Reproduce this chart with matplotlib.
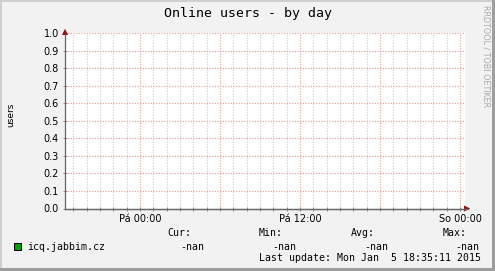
import numpy as np
import matplotlib
matplotlib.use("Agg")
import matplotlib.pyplot as plt
from matplotlib.patches import Rectangle
from matplotlib.lines import Line2D

# ---- data ----
title = "Online users - by day"
y_label = "users"
series_name = "icq.jabbim.cz"
series_color = "#00A000"
# hours relative to "Pá 00:00"; the series has no data (all NaN)
time_hours = [-5.0, 0.0, 6.0, 12.0, 18.0, 24.0]
users = [np.nan, np.nan, np.nan, np.nan, np.nan, np.nan]
x_tick_pos = [0, 12, 24]
x_tick_labels = ["Pá 00:00", "Pá 12:00", "So 00:00"]
y_ticks = [0.0, 0.1, 0.2, 0.3, 0.4, 0.5, 0.6, 0.7, 0.8, 0.9, 1.0]
stat_headers = ["Cur:", "Min:", "Avg:", "Max:"]
stat_values = ["-nan", "-nan", "-nan", "-nan"]
last_update = "Last update: Mon Jan  5 18:35:11 2015"
watermark = "RRDTOOL / TOBI OETIKER"
x_range = (-5.625, 24.375)

W, H = 495, 271
fig = plt.figure(figsize=(W / 100, H / 100), dpi=100)
fig.patch.set_facecolor("#F2F2F2")

def fx(px):
    return px / W

def fy(py):
    return 1 - py / H

# frame shading
fig.add_artist(Rectangle((0, fy(2)), 1, 2 / H, transform=fig.transFigure, facecolor="#CFCFCF", edgecolor="none"))
fig.add_artist(Rectangle((0, 0), 2 / W, 1, transform=fig.transFigure, facecolor="#CFCFCF", edgecolor="none"))
fig.add_artist(Rectangle((0, 0), 1, 3 / H, transform=fig.transFigure, facecolor="#9E9E9E", edgecolor="none"))
fig.add_artist(Rectangle((1 - 3 / W, 0), 3 / W, 1, transform=fig.transFigure, facecolor="#9E9E9E", edgecolor="none"))

left_px, right_px, top_px, bot_px = 65, 465, 33, 208.5
ax = fig.add_axes([fx(left_px), fy(bot_px), (right_px - left_px) / W, (bot_px - top_px) / H])
ax.set_facecolor("white")
ax.set_xlim(*x_range)
ax.set_ylim(0, 1)

ax.plot(time_hours, users, color=series_color, lw=1)

dot = (0, (1.0, 1.4))
minor_col = "#CCCCCC"
major_col = "#EE9A9A"
for h in range(-5, 25):
    if h % 6 == 0:
        continue
    ax.axvline(h, color=minor_col, lw=0.8, ls=dot, zorder=0.5)
for h in range(0, 25, 6):
    ax.axvline(h, color=major_col, lw=0.8, ls=dot, zorder=0.6)
for v in y_ticks[1:]:
    ax.axhline(v, color=major_col, lw=0.8, ls=dot, zorder=0.6)

for s in ["top", "right"]:
    ax.spines[s].set_visible(False)
for s in ["left", "bottom"]:
    ax.spines[s].set_color("#666666")
    ax.spines[s].set_linewidth(0.9)

ax.set_yticks(y_ticks)
ax.set_yticklabels([f"{v:.1f}" for v in y_ticks])
ax.set_xticks(x_tick_pos)
ax.set_xticklabels(x_tick_labels)
ax.set_xticks(list(range(-5, 25)), minor=True)
ax.tick_params(axis="both", which="both", direction="inout", length=3, width=0.6,
               color="#777777", labelsize=7, labelcolor="black")
ax.tick_params(axis="y", pad=3)
ax.tick_params(axis="x", pad=2.5)
for lbl in ax.get_xticklabels() + ax.get_yticklabels():
    lbl.set_family("DejaVu Sans")

# arrows
ax.annotate("", xy=(0, 1.04), xycoords="axes fraction", xytext=(0, 0.98),
            arrowprops=dict(arrowstyle="-|>,head_length=0.45,head_width=0.22", color="#8B1A1A", lw=0), annotation_clip=False)
ax.annotate("", xy=(1.02, 0), xycoords="axes fraction", xytext=(1.0, 0),
            arrowprops=dict(arrowstyle="-|>,head_length=0.45,head_width=0.22", color="#8B1A1A", lw=0), annotation_clip=False)
fig.add_artist(Line2D([fx(left_px), fx(468)], [fy(bot_px), fy(bot_px)], transform=fig.transFigure, color="#666666", lw=0.9))

mono = "DejaVu Sans Mono"
fig.text(fx(248), fy(14), title, ha="center", va="center", family=mono, fontsize=9.5)
fig.text(fx(10.5), fy(115), y_label, ha="center", va="center", rotation=90, family="DejaVu Sans", fontsize=6.5)
fig.text(fx(486), fy(5), watermark, ha="center", va="top", rotation=270, family="DejaVu Sans", fontsize=5.8, color="#AAAAAA")

# legend
fig.add_artist(Rectangle((fx(13.5), fy(249.5)), 7 / W, 7 / H, transform=fig.transFigure,
                         facecolor=series_color, edgecolor="black", lw=0.7))
fs = 7.1
fig.text(fx(27), fy(246.5), series_name, ha="left", va="center", family=mono, fontsize=fs)
hdr_x = [167, 259, 351, 443]
val_x = [180, 272, 364, 455]
for hx, t in zip(hdr_x, stat_headers):
    fig.text(fx(hx), fy(233), t, ha="left", va="center", family=mono, fontsize=fs)
for vx, t in zip(val_x, stat_values):
    fig.text(fx(vx), fy(246.5), t, ha="left", va="center", family=mono, fontsize=fs)
fig.text(fx(259), fy(258), last_update, ha="left", va="center", family=mono, fontsize=fs)

fig.savefig("out.png", dpi=100, facecolor=fig.get_facecolor())
